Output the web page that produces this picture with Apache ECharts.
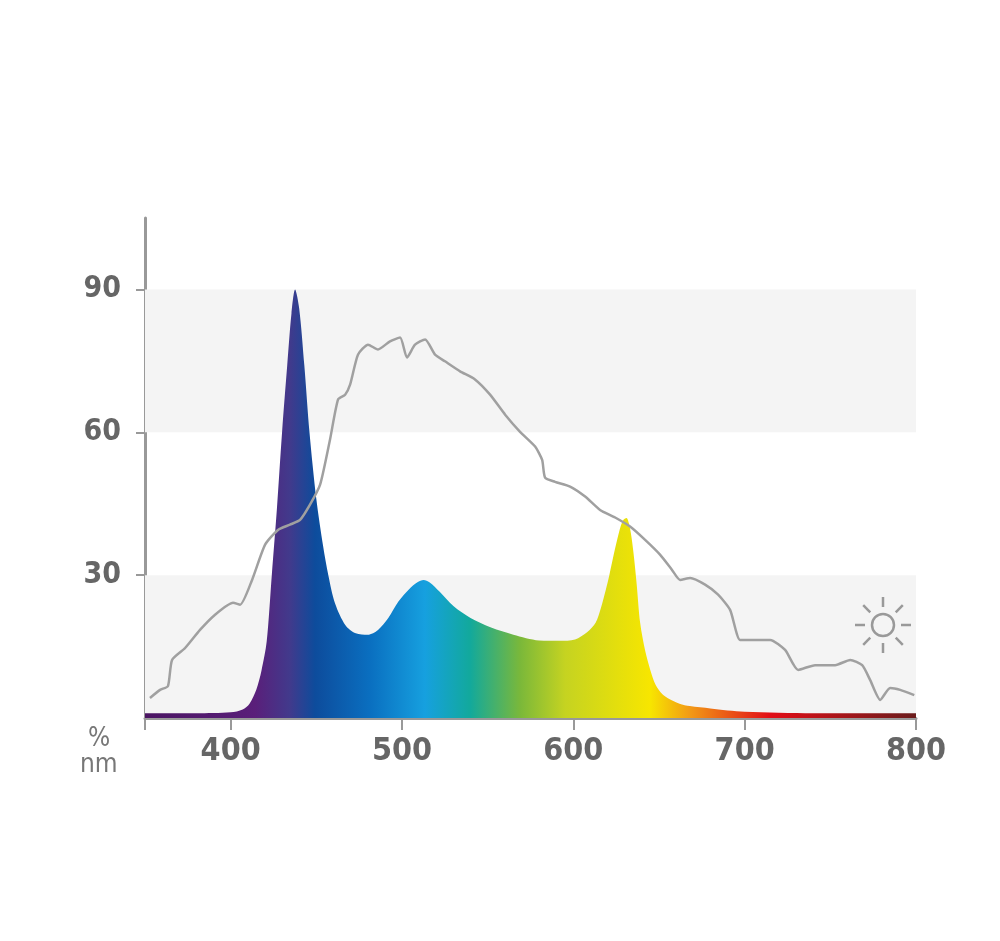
<!DOCTYPE html>
<html><head><meta charset="utf-8">
<script src="https://cdn.jsdelivr.net/npm/echarts@6/dist/echarts.min.js"></script>
<style>html,body{margin:0;background:#fff}#c{width:1000px;height:941px}</style>
</head><body><div id="c"></div>
<script>
const xTicks=[400,500,600,700,800];
const yTicks=[30,60,90];
const ledNm=[350,380,400,407,411,415,418,421,424,427,430,433,435.5,437.6,440,443,446,450,454,457,461,467,473,480,486,492,498,504,509,512.6,516,522,530,540,552,565,580,592,601,608,613,616,619,621,624,627,629,631,633,635,637,639,642,645,648,652,656,662,668,680,700,740,800];
const ledVal=[1,1,1.2,1.8,3,6,10,16,30,44,60,74,85,90,86,74,60,46,36,30,24,19.5,17.8,17.5,18.5,21,24.5,27,28.5,29,28.5,26.5,23.5,21,19,17.5,16.3,16.2,16.5,18,20,23,27,30,35,39.5,41.5,42,40,35,28,20,14,10,7,5,4,3,2.5,2,1.3,1,1];
const sunNm=[352.9,358.8,363.4,365.8,373.4,382.1,390.9,401.4,405.5,412.5,420.1,427.6,434.6,440.5,446.3,452.2,458.0,462.7,466.8,469.7,474.3,480.2,486.0,493.0,498.9,502.9,507.6,513.5,519.3,525.1,533.9,542.6,551.4,560.2,568.9,577.7,581.8,583.5,589.3,598.1,606.9,615.6,624.4,633.1,641.9,650.6,657.6,662.3,668.2,676.9,684.5,691.5,697.3,703.2,714.9,723.6,731.2,741.1,752.8,761.6,768.6,773.2,779.1,784.9,790.8,799.0];
const sunVal=[4.2,5.9,6.7,12.2,14.7,18.5,21.7,24.2,23.8,29.0,36.4,39.5,40.6,41.6,44.8,49.0,58.5,66.9,67.9,70.0,76.3,78.4,77.4,79.1,79.9,75.7,78.4,79.5,76.3,74.9,72.8,71.1,67.9,63.7,60.1,57.0,54.2,50.5,49.6,48.6,46.5,43.7,42.1,40.2,37.4,34.3,31.1,29.0,29.4,28.0,25.9,22.7,16.4,16.4,16.4,14.3,10.1,11.1,11.1,12.2,11.1,8.0,3.8,6.3,5.9,4.8];

const font="'Liberation Sans Narrow','DejaVu Sans Condensed',sans-serif";
const stops=[[145,'#4a1462'],[255,'#5a1f7a'],[290,'#413a8c'],[315,'#0d4c9c'],[370,'#0a6fc0'],[425,'#16a0df'],[470,'#12a99c'],[520,'#7ab83a'],[565,'#c5d321'],[650,'#f7e600'],[690,'#f29a16'],[770,'#e20d16'],[916,'#6a1c1c']];
const grad=new echarts.graphic.LinearGradient(0,0,1,0,stops.map(s=>({offset:(s[0]-145)/771,color:s[1]})));
const chart=echarts.init(document.getElementById('c'));
const sunG=[];
const cx=883,cy=625;
sunG.push({type:'circle',shape:{cx,cy,r:11},style:{fill:'none',stroke:'#999',lineWidth:2.5},z:10});
for(let i=0;i<8;i++){const a=i*Math.PI/4,c=Math.cos(a),s=Math.sin(a);
 sunG.push({type:'line',shape:{x1:cx+c*18,y1:cy+s*18,x2:cx+c*28,y2:cy+s*28},style:{stroke:'#999',lineWidth:2.5},z:10});}
chart.setOption({
 animation:false,
 grid:{left:145,right:84,top:218,bottom:223},
 xAxis:{type:'value',min:350,max:800,
  axisLine:{show:true,lineStyle:{color:'#999',width:3}},
  axisTick:{show:true,length:12,lineStyle:{color:'#999',width:2},customValues:[350].concat(xTicks)},
  axisLabel:{customValues:xTicks,color:'#666',fontFamily:font,fontWeight:'bold',fontSize:32,margin:18},
  splitLine:{show:false}},
 yAxis:{type:'value',min:0,max:105,
  axisLine:{show:true,lineStyle:{color:'#999',width:3}},
  axisTick:{show:true,length:9,lineStyle:{color:'#999',width:2},customValues:yTicks},
  axisLabel:{customValues:yTicks,color:'#666',fontFamily:font,fontWeight:'bold',fontSize:30,margin:24},
  splitLine:{show:false}},
 graphic:[
  {type:'text',left:88,top:726,style:{text:'%',fill:'#777',font:'26px '+font}},
  {type:'text',left:80,top:752,style:{text:'nm',fill:'#777',font:'26px '+font}}
 ].concat(sunG),
 series:[
  {type:'line',data:[[350,0],[800,0]],symbol:'none',lineStyle:{width:0},
   markArea:{silent:true,itemStyle:{color:'#f4f4f4'},data:[[{xAxis:350,yAxis:0},{xAxis:800,yAxis:30}],[{xAxis:350,yAxis:60},{xAxis:800,yAxis:90}]]},z:0},
  {type:'line',data:ledNm.map((x,i)=>[x,ledVal[i]]),smooth:0.3,symbol:'none',
   lineStyle:{width:0},areaStyle:{color:grad,opacity:1},z:2},
  {type:'line',data:sunNm.map((x,i)=>[x,sunVal[i]]),smooth:0.2,symbol:'none',
   lineStyle:{color:'#a0a0a0',width:2.5},z:3}
 ]
});
</script></body></html>
